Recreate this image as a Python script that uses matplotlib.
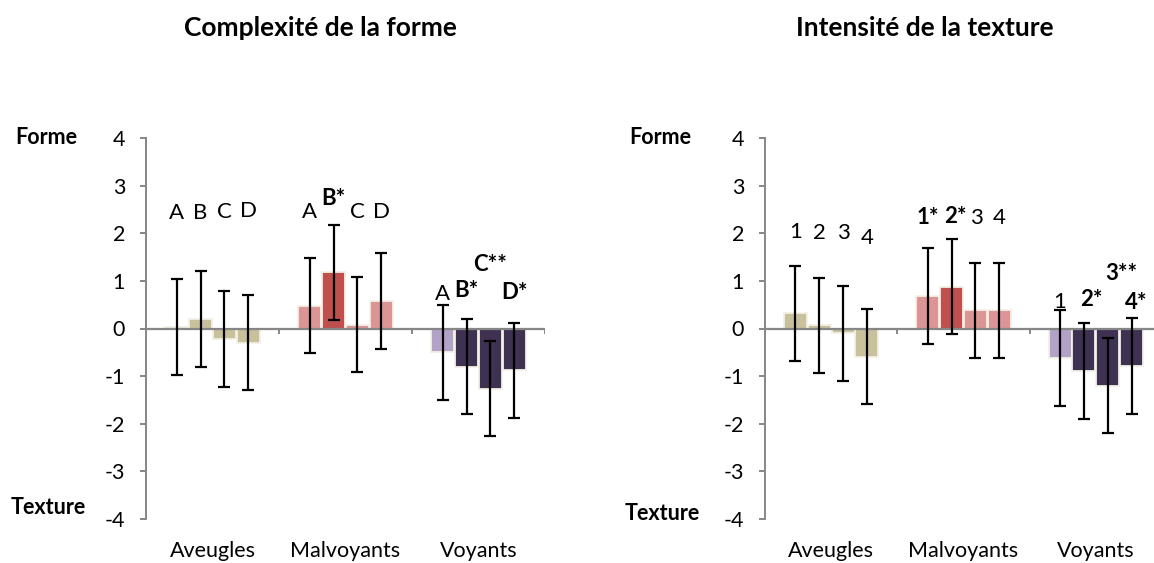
import matplotlib
matplotlib.use('Agg')
import matplotlib.pyplot as plt
import numpy as np

plt.rcParams['font.family'] = ['Lato', 'DejaVu Sans']
plt.rcParams['axes.unicode_minus'] = False

groups = ['Aveugles', 'Malvoyants', 'Voyants']

# mean scores, 4 items per group (left: shape complexity, right: texture intensity)
forme_means = [[0.03, 0.20, -0.22, -0.30],
               [0.48, 1.18, 0.08, 0.58],
               [-0.50, -0.80, -1.26, -0.88]]
texture_means = [[0.32, 0.07, -0.10, -0.59],
                 [0.68, 0.88, 0.38, 0.38],
                 [-0.62, -0.89, -1.20, -0.79]]
err = 1.0

forme_labels = [['A', 'B', 'C', 'D'],
                ['A', 'B*', 'C', 'D'],
                ['A', 'B*', 'C**', 'D*']]
texture_labels = [['1', '2', '3', '4'],
                  ['1*', '2*', '3', '4'],
                  ['1', '2*', '3**', '4*']]

# colours per group/item
bar_colors = [['#c8c19c'] * 4,
              ['#dc9595', '#c0504d', '#dc9595', '#dc9595'],
              ['#b3a2c7', '#3f3151', '#3f3151', '#3f3151']]

# label placement (y in data units, x shift in bar widths)
forme_label_y = [[2.42, 2.42, 2.45, 2.46],
                 [2.44, 2.73, 2.44, 2.45],
                 [0.73, 0.80, 1.35, 0.76]]
texture_label_y = [[2.02, 2.0, 2.0, 1.91],
                   [2.34, 2.35, 2.31, 2.31],
                   [0.55, 0.61, 1.15, 0.55]]
texture_label_dx = [[0, 0, 0, 0],
                    [0, 0.15, 0.05, 0],
                    [0, 0.3, 0.55, 0.2]]

fig = plt.figure(figsize=(11.54, 5.63), dpi=100)

W = 0.18


def draw(ax, means, labels, label_y, label_dx):
    x = np.arange(len(groups))
    for g in range(len(groups)):
        for i in range(4):
            xc = x[g] + (i - 1.5) * W
            ax.bar(xc, means[g][i], width=W * 0.97, color=bar_colors[g][i],
                   edgecolor='#f3f0e6', linewidth=1.3, zorder=2)
            ax.errorbar(xc, means[g][i], yerr=err, color='black', lw=1.6,
                        capsize=4.5, capthick=1.6, zorder=4)
            bold = '*' in labels[g][i]
            ax.text(xc + label_dx[g][i] * W, label_y[g][i], labels[g][i],
                    ha='center', va='center', fontsize=16,
                    fontweight='bold' if bold else 'normal', zorder=5)
    ax.axhline(0, color='#868686', lw=1.6, zorder=3)
    ax.vlines([0.5, 1.5, 2.5], -0.12, 0, color='#868686', lw=1.4, zorder=3)
    ax.set_xlim(-0.5, 2.5)
    ax.set_ylim(-4, 4)
    ax.set_yticks(range(-4, 5))
    ax.set_xticks(x)
    ax.set_xticklabels(groups)
    ax.tick_params(axis='x', length=0, pad=16, labelsize=15.5)
    ax.tick_params(axis='y', length=4, width=1.4, color='#868686',
                   pad=11, labelsize=15.5)
    for s in ['top', 'right', 'bottom']:
        ax.spines[s].set_visible(False)
    ax.spines['left'].set_color('#868686')
    ax.spines['left'].set_linewidth(1.4)
    ax.patch.set_alpha(0)


ax1 = fig.add_axes([146 / 1154, 44 / 563, 399 / 1154, 381 / 563])
draw(ax1, forme_means, forme_labels, forme_label_y, [[0] * 4] * 3)
ax2 = fig.add_axes([765 / 1154, 44 / 563, 397 / 1154, 381 / 563])
draw(ax2, texture_means, texture_labels, texture_label_y, texture_label_dx)

fig.text(320 / 1154, 1 - 28 / 563, 'Complexité de la forme', ha='center',
         va='center', fontsize=19, fontweight='bold')
fig.text(925 / 1154, 1 - 28 / 563, 'Intensité de la texture', ha='center',
         va='center', fontsize=19, fontweight='bold')
for xf, yb in [(46, 508), (660, 513)]:
    fig.text(xf / 1154, 1 - 138 / 563, 'Forme', ha='center', va='center',
             fontsize=15.5, fontweight='bold')
    fig.text((xf + 2) / 1154, 1 - yb / 563, 'Texture', ha='center',
             va='center', fontsize=15.5, fontweight='bold')

fig.savefig('out.png', dpi=100)
